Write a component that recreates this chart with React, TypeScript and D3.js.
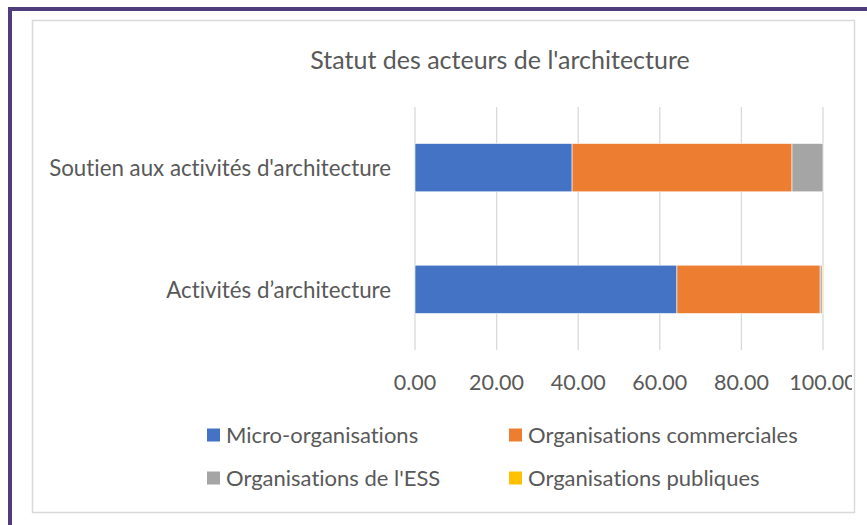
import { useEffect, useRef } from "react";
import * as d3 from "d3";

const categories = ["Soutien aux activités d'architecture", "Activités d’architecture"];
const seriesNames = [
    "Micro-organisations",
    "Organisations commerciales",
    "Organisations de l'ESS",
    "Organisations publiques",
];
const micro = [38.5, 64.2];
const commerciales = [53.9, 35.1];
const ess = [7.6, 0.5];
const publiques = [0.0, 0.2];
const xTicks = [0, 20, 40, 60, 80, 100];
const colors = ["#4472c4", "#ed7d31", "#a5a5a5", "#ffc000"];

const W = 867;
const H = 525;
const FONT = "Lato, Carlito, sans-serif";
const TEXT = "#595959";
// Lato sits a little high with dominant-baseline middle
const DY = 3;

const App = () => {
    const svgRef = useRef<SVGSVGElement>(null);

    useEffect(() => {
        const svg = d3.select(svgRef.current);
        svg.selectAll("*").remove();

        // outer purple frame (runs off the page on right and bottom)
        svg.append("rect")
            .attr("x", 10)
            .attr("y", 9)
            .attr("width", 900)
            .attr("height", 600)
            .attr("fill", "#fff")
            .attr("stroke", "#4e3d7a")
            .attr("stroke-width", 4);

        // chart area
        svg.append("rect")
            .attr("x", 32.5)
            .attr("y", 20.5)
            .attr("width", 822)
            .attr("height", 492)
            .attr("fill", "#fff")
            .attr("stroke", "#d9d9d9")
            .attr("stroke-width", 1.5);

        svg.append("clipPath")
            .attr("id", "area")
            .append("rect")
            .attr("x", 33)
            .attr("y", 21)
            .attr("width", 819)
            .attr("height", 491);

        const g = svg
            .append("g")
            .attr("clip-path", "url(#area)")
            .style("font-family", FONT)
            .style("font-variant-ligatures", "none")
            .attr("fill", TEXT);

        g.append("text")
            .attr("x", 500)
            .attr("y", 60 + DY)
            .attr("text-anchor", "middle")
            .attr("dominant-baseline", "middle")
            .style("font-size", "25px")
            .text("Statut des acteurs de l'architecture");

        const x = d3.scaleLinear().domain([0, 100]).range([415, 823]);
        const y = d3
            .scaleBand()
            .domain(categories)
            .range([107, 350])
            .paddingInner(0.603)
            .paddingOuter(0.3);

        // gridlines
        g.append("g")
            .selectAll("line")
            .data(xTicks)
            .join("line")
            .attr("x1", (d) => x(d))
            .attr("x2", (d) => x(d))
            .attr("y1", 107)
            .attr("y2", 350)
            .attr("stroke", "#d9d9d9")
            .attr("stroke-width", 1.3);

        // tick labels
        g.append("g")
            .selectAll("text")
            .data(xTicks)
            .join("text")
            .attr("x", (d) => x(d))
            .attr("y", 382 + DY)
            .attr("text-anchor", "middle")
            .attr("dominant-baseline", "middle")
            .style("font-size", "21.5px")
            .text((d) => d3.format(".2f")(d));

        // category labels
        g.append("g")
            .selectAll("text")
            .data(categories)
            .join("text")
            .attr("x", 391)
            .attr("y", (d) => y(d)! + y.bandwidth() / 2 + DY)
            .attr("text-anchor", "end")
            .attr("dominant-baseline", "middle")
            .style("font-size", "22.3px")
            .text((d) => d);

        const rows = categories.map((c, i) => ({
            cat: c,
            [seriesNames[0]]: micro[i],
            [seriesNames[1]]: commerciales[i],
            [seriesNames[2]]: ess[i],
            [seriesNames[3]]: publiques[i],
        }));
        const stacked = d3.stack<any>().keys(seriesNames)(rows);

        g.append("g")
            .selectAll("g")
            .data(stacked)
            .join("g")
            .attr("fill", (_, i) => colors[i])
            .selectAll("rect")
            .data((s) => s)
            .join("rect")
            .attr("x", (d) => x(d[0]))
            .attr("y", (d) => y(d.data.cat)!)
            .attr("width", (d) => Math.max(0, x(d[1]) - x(d[0])))
            .attr("height", y.bandwidth())
            .attr("stroke", "#fff")
            .attr("stroke-width", 0.6);

        // legend
        const legendPos = [
            [207, 435],
            [509, 435],
            [207, 478],
            [509, 478],
        ];
        const legend = g
            .append("g")
            .selectAll("g")
            .data(seriesNames)
            .join("g")
            .attr("transform", (_, i) => `translate(${legendPos[i][0]},${legendPos[i][1]})`);
        legend
            .append("rect")
            .attr("x", 0)
            .attr("y", -6.5)
            .attr("width", 13)
            .attr("height", 13)
            .attr("fill", (_, i) => colors[i]);
        legend
            .append("text")
            .attr("x", 19)
            .attr("y", DY - 0.5)
            .attr("dominant-baseline", "middle")
            .style("font-size", "22px")
            .text((d) => d);
    }, []);

    return (
        <div style={{ position: "absolute", left: 0, top: 0 }}>
            <svg ref={svgRef} width={W} height={H} />
        </div>
    );
};

export default App;
